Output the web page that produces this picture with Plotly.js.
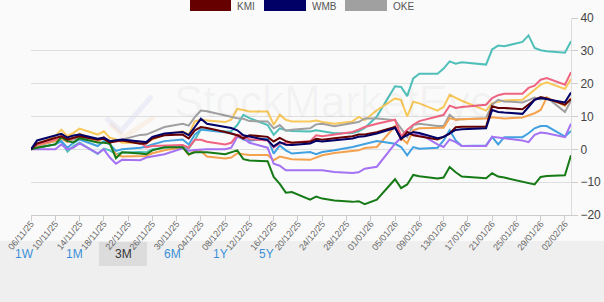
<!DOCTYPE html>
<html>
<head>
<meta charset="utf-8">
<script src="https://cdn.plot.ly/plotly-3.0.1.min.js"></script>
<style>
  html, body { margin: 0; padding: 0; background: #fafafa; }
  #chart { width: 604px; height: 302px; }
</style>
</head>
<body>
<div id="chart"></div>
<script>
// Trading days, 6 Nov 2025 – 3 Feb 2026
const dates = [
  '2025-11-06','2025-11-07','2025-11-10','2025-11-11','2025-11-12','2025-11-13','2025-11-14',
  '2025-11-17','2025-11-18','2025-11-19','2025-11-20','2025-11-21','2025-11-24','2025-11-25',
  '2025-11-26','2025-11-28','2025-12-01','2025-12-02','2025-12-03','2025-12-04','2025-12-05',
  '2025-12-08','2025-12-09','2025-12-10','2025-12-11','2025-12-12','2025-12-15','2025-12-16',
  '2025-12-17','2025-12-18','2025-12-19','2025-12-22','2025-12-23','2025-12-24','2025-12-26',
  '2025-12-29','2025-12-30','2025-12-31','2026-01-02','2026-01-05','2026-01-06','2026-01-07',
  '2026-01-08','2026-01-09','2026-01-12','2026-01-13','2026-01-14','2026-01-15','2026-01-16',
  '2026-01-20','2026-01-21','2026-01-22','2026-01-23','2026-01-26','2026-01-27','2026-01-28',
  '2026-01-29','2026-01-30','2026-02-02','2026-02-03'
];

// % change since 6 Nov 2025
const kmi = [0,1.8,3.5,4,3,3.6,4,3,3.2,2,2.5,2.7,1.7,1.8,3.3,4.3,4.5,3.3,5.8,6.8,6.5,5.3,4.8,4.3,3.3,4.3,3.8,2.4,3.5,2.5,2,2.3,3.2,2.9,3.4,4,4.5,4.5,5.2,6.8,3,5.3,4.3,4,3,3.8,4.8,6.7,6.9,6.9,13.1,12.6,12.6,12.2,13.6,15.1,15.9,15.5,13.6,15.3];
const wmb = [0,2.7,4.2,4.7,3.6,4.2,4.5,3.2,3.6,2.5,2.8,3,2.4,2.2,3.8,4.8,5.3,4.3,6.8,9.3,7.8,6.8,6.5,5.8,4.3,3.9,2.8,0.9,2.2,1.4,1.3,1.8,2.6,2.4,2.7,3.3,3.8,4,4.8,6.5,3.3,4.3,5.3,5,3.4,3.8,4.9,5.9,6.1,6.4,12,11.4,11.2,10.8,12.9,15.1,15.6,15.3,14.3,17.3];
const oke = [0,1,2.5,3.5,2.5,3,3.8,2.8,3.2,2.2,2.5,3,4.4,4.5,5.3,6.8,7.8,7.2,9.8,11.8,11.6,10.2,9.8,9.5,9.3,8.6,8.5,6.4,7.4,5.7,6,6.4,7.6,7.8,7,8,8.3,9.4,9.4,8.9,6.5,3.8,7.4,7.8,7.1,7.1,10.5,9,9.2,9.5,13.6,15.1,14.6,14.3,15,15.8,15.2,15.8,11.4,14.8];
const teal = [0,0.5,1.5,2.5,-0.7,1,2,-1.4,0.2,-0.3,-1.5,-1,-0.8,-0.9,0,0.5,0.8,0.3,2.9,6.1,6,5.4,5.5,7.4,10.5,9.5,7.4,4.4,6.4,5.8,5.6,5.4,5.8,5.5,4.9,5,5.5,6.5,10,19.2,19,16.2,21.6,23,23,24.6,26.8,26.1,26.5,25.8,30.4,31.6,31.4,32.7,34.7,30.9,30.2,29.9,29.4,32.9];
const pink = [0,1.5,3,4.1,2.5,3.5,4.1,2.9,3.5,2.5,2.3,2.8,2.3,0.6,1,1.2,1.3,0.5,2.9,2.9,2.3,1.5,2,4.4,4.2,3.1,2.7,0.6,1.8,2,2,2.5,4.3,4,4.6,5.3,6,6.8,7.8,9,4,6,7.5,8.6,10,10.5,13.3,12.6,12.9,13.6,15.6,16.5,16.9,16.9,18.7,19.4,21.2,21.7,19.7,23.5];
const yellow = [0,1.5,4,6,4,5,6.3,4.5,5.5,3.5,3,2,2,2,3,4.5,5.5,4.5,8.5,9,8.8,8.3,9,12.3,12,11.5,11.5,7.5,10.5,9,8.5,8.5,8.8,8.3,7.8,8.5,9.9,8.9,11.9,15.5,15,10,14.5,14,11.8,12.9,16.6,15.6,14.8,11.8,14.1,14.5,14.9,15.1,16.6,18,19.7,20.4,18.4,21.4];
const orange = [0,1.2,2.5,3.3,2.2,3.5,4.8,2.2,3.8,1.5,-1.5,-2.2,-2.2,-2,-1.2,-0.3,0.6,-1.7,-0.4,-0.5,-2.2,-2.8,-2.5,-1.2,-1.5,-1.7,-1.7,-3.3,-2.2,-2.5,-3,-3.2,-2.5,-1.8,-1.1,-0.5,-0.3,0.4,0.7,7,3.5,1.8,5.8,6.4,6.4,6.6,9.5,9,9.2,9.4,9.8,9.5,9.4,9.7,10.3,11,12,15.8,13.3,15.6];
const blue = [0,0.5,1.5,2.5,0.5,2,3,1,2.5,1.5,-0.5,0,0.5,0.8,1.5,2.5,3,1.5,4.5,6,5.8,5.3,5,4.2,3,2.6,3.3,-1.3,1.2,-0.3,-1.3,-0.8,-1.5,-0.8,-0.3,0.7,1.2,1.5,2.5,1.7,0.7,-1.8,0.7,0.2,0.5,2.7,5.8,2.7,1,1.2,3.8,1.5,3.7,3.7,4.9,6.4,7.1,7.1,3.9,5.6];
const purple = [0,0,0,1.5,0,0.5,1.8,-1.2,0,-2.5,-4.4,-3.2,-3.3,-2.5,-2.2,-1.5,0.3,-0.4,-0.2,0,0,0,0.5,3.8,3.3,2,0.5,-4.4,-5,-6.4,-6.4,-6.4,-6.4,-6.4,-6.9,-7.2,-7,-5.9,-5.3,1.7,3.5,5.3,4.5,4.8,1.5,0.7,3,2.2,1,1,3.8,3.5,3.4,2.7,2.2,4.4,5.1,4.9,3.7,7.8];
const green = [0,0.5,1.5,3.7,2.5,2.1,3.4,2.1,2,1.8,-2.7,-0.9,-1.3,-1.5,-0.3,0.6,0.6,-1.5,-0.9,-1,-0.9,-1.5,-0.8,-0.3,-3,-3.4,-3.6,-8.4,-10.5,-13.2,-13,-15.3,-14.4,-15,-15.6,-16,-15.8,-16.7,-15.3,-9.1,-11.8,-10.7,-7.8,-8.2,-8.9,-8.6,-5.4,-7,-8.3,-8.8,-7.3,-8.3,-8.6,-9.9,-10.4,-10.7,-8.4,-8.1,-7.9,-1.8];

const series = [
  { name: 'teal',   y: teal,   color: '#4fbfb9' },
  { name: 'yellow', y: yellow, color: '#f8c85a' },
  { name: 'OKE',    y: oke,    color: '#a0a0a0' },
  { name: 'orange', y: orange, color: '#f5a24e' },
  { name: 'blue',   y: blue,   color: '#42a1e0' },
  { name: 'purple', y: purple, color: '#a472f2' },
  { name: 'pink',   y: pink,   color: '#ef6480' },
  { name: 'green',  y: green,  color: '#167a16' },
  { name: 'KMI',    y: kmi,    color: '#660000' },
  { name: 'WMB',    y: wmb,    color: '#000066' }
];

const traces = series.map(s => ({
  type: 'scatter', mode: 'lines', name: s.name,
  x: dates, y: s.y,
  line: { color: s.color, width: 2 },
  hoverinfo: 'skip'
}));

// Legend row (KMI / WMB / OKE) and range buttons
const legendItems = [
  { label: 'KMI', color: '#660000', x0: 190, x1: 231 },
  { label: 'WMB', color: '#000066', x0: 264, x1: 306 },
  { label: 'OKE', color: '#a0a0a0', x0: 345, x1: 387 }
];
const rangeButtons = ['1W', '1M', '3M', '6M', '1Y', '5Y'];
const buttonX = [24, 74, 123, 172, 220, 266];
const activeButton = '3M';

const W = 604, H = 302;
const M = { l: 31, r: 33, t: 18, b: 87 };
const PW = W - M.l - M.r, PH = H - M.t - M.b;
const px = x => (x - M.l) / PW;           // pixel -> paper x
const py = y => (M.t + PH - y) / PH;      // pixel -> paper y

const shapes = [];
const annotations = [];

// bottom button bar
shapes.push({ type: 'rect', xref: 'paper', yref: 'paper', layer: 'below',
  x0: px(0), x1: px(W), y0: py(241), y1: py(H), fillcolor: '#efefef', line: { width: 0 } });
rangeButtons.forEach((b, i) => {
  if (b === activeButton) {
    shapes.push({ type: 'rect', xref: 'paper', yref: 'paper', layer: 'below',
      x0: px(buttonX[i] - 24), x1: px(buttonX[i] + 24), y0: py(242), y1: py(266),
      fillcolor: '#dcdcdc', line: { width: 0 } });
  }
  annotations.push({ xref: 'paper', yref: 'paper', x: px(buttonX[i]), y: py(254),
    text: b, showarrow: false, xanchor: 'center', yanchor: 'middle',
    font: { family: 'Liberation Sans, Arial, sans-serif', size: 12,
            color: b === activeButton ? '#333333' : '#3b8fd9' } });
});

legendItems.forEach(it => {
  shapes.push({ type: 'rect', xref: 'paper', yref: 'paper',
    x0: px(it.x0), x1: px(it.x1), y0: py(11), y1: py(-2),
    fillcolor: it.color, line: { width: 0 } });
  annotations.push({ xref: 'paper', yref: 'paper', x: px(it.x1 + 4), y: py(6),
    text: it.label, showarrow: false, xanchor: 'left', yanchor: 'middle',
    font: { family: 'Liberation Sans, Arial, sans-serif', size: 10, color: '#555555' } });
});

// faint watermark: tick logo and wordmark
shapes.push({ type: 'path', xref: 'paper', yref: 'paper', layer: 'below',
  path: `M ${px(106)} ${py(118)} L ${px(121)} ${py(131)} L ${px(152)} ${py(96)}`,
  line: { color: 'rgba(120,130,220,0.10)', width: 5 } });
shapes.push({ type: 'path', xref: 'paper', yref: 'paper', layer: 'below',
  path: `M ${px(110)} ${py(124)} L ${px(124)} ${py(137)} L ${px(154)} ${py(117)}`,
  line: { color: 'rgba(245,160,80,0.10)', width: 5 } });
annotations.push({ xref: 'paper', yref: 'paper', x: px(172), y: py(102),
  text: 'StockMarketEye', showarrow: false, xanchor: 'left', yanchor: 'middle',
  font: { family: 'Liberation Sans, Arial, sans-serif', size: 44, color: 'rgba(0,0,0,0.04)' } });

const layout = {
  width: W, height: H,
  margin: M,
  paper_bgcolor: '#fafafa',
  plot_bgcolor: '#fafafa',
  showlegend: false,
  font: { family: 'Liberation Sans, Arial, sans-serif', size: 12, color: '#444444' },
  xaxis: {
    type: 'date',
    range: ['2025-11-06', '2026-02-03'],
    tick0: '2025-11-06',
    dtick: 4 * 86400000,
    tickformat: '%d/%m/%y',
    tickangle: -50,
    tickfont: { size: 9, color: '#666666' },
    ticklabelstandoff: -6,
    showgrid: false,
    showline: true, linecolor: '#cccccc', linewidth: 1,
    ticks: 'outside', ticklen: 5, tickcolor: '#cccccc',
    zeroline: false, fixedrange: true
  },
  yaxis: {
    side: 'right',
    range: [-20, 40],
    dtick: 10,
    tickfont: { size: 12, color: '#444444' },
    gridcolor: '#dedede', gridwidth: 1,
    showline: true, linecolor: '#dddddd', linewidth: 1,
    ticks: 'outside', ticklen: 6, tickcolor: '#cccccc',
    zeroline: false, fixedrange: true
  },
  shapes: shapes,
  annotations: annotations
};

Plotly.newPlot('chart', traces, layout, { staticPlot: true, displayModeBar: false });
</script>
</body>
</html>
